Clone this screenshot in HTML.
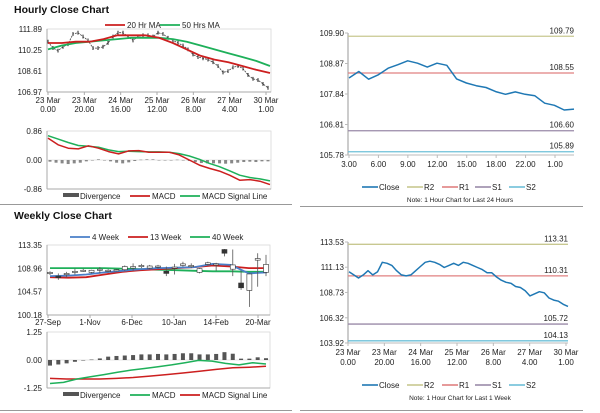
<!DOCTYPE html>
<html><head><meta charset="utf-8"><style>
body{margin:0;background:#fff;font-family:"Liberation Sans",Arial,sans-serif}
svg{display:block}
</style></head><body>
<svg id="s" width="600" height="413" viewBox="0 0 600 413" xmlns="http://www.w3.org/2000/svg" font-family="Liberation Sans, Arial, sans-serif">
<text x="14" y="13" font-size="10.5" font-weight="bold" fill="#111">Hourly Close Chart</text>
<text x="14" y="219" font-size="10.5" font-weight="bold" fill="#111">Weekly Close Chart</text>
<line x1="0" y1="204.5" x2="292" y2="204.5" stroke="#999"/>
<line x1="300" y1="206.5" x2="583" y2="206.5" stroke="#999"/>
<line x1="0" y1="410.5" x2="292" y2="410.5" stroke="#999"/>
<line x1="300" y1="410.5" x2="583" y2="410.5" stroke="#999"/>
</svg>
<script>
// ---- Hourly (top-left) ----
const hPrice=[110.9,110.4,110.2,110.5,110.7,111.5,111.6,111.3,111.0,110.4,110.4,110.5,110.8,111.3,111.6,111.6,111.3,111.0,111.3,111.4,111.4,111.3,111.6,111.5,111.2,111.0,110.8,110.6,110.3,109.9,109.7,109.6,109.5,109.3,109.0,108.5,108.6,108.9,109.0,108.8,108.3,108.0,107.9,107.6,107.3];
const hMA20=[110.8,110.8,110.9,110.9,111.1,111.4,111.4,111.4,111.2,110.8,110.3,109.8,109.5,109.3,109.0,108.7,108.45];
const hMA50=[110.3,110.6,110.8,110.9,111.0,111.1,111.2,111.2,111.2,111.1,110.9,110.6,110.3,110.0,109.7,109.4,109.0];
const hTicks=["111.89","110.25","108.61","106.97"];
const hXLabels=[["23 Mar","0.00"],["23 Mar","20.00"],["24 Mar","16.00"],["25 Mar","12.00"],["26 Mar","8.00"],["27 Mar","4.00"],["30 Mar","1.00"]];
const hMacd=[0.65,0.45,0.35,0.33,0.42,0.35,0.25,0.18,0.27,0.28,0.23,0.23,0.23,0.15,0.0,-0.15,-0.25,-0.33,-0.45,-0.6,-0.58,-0.63,-0.73];
const hSignal=[0.72,0.62,0.52,0.43,0.41,0.38,0.30,0.25,0.26,0.25,0.24,0.24,0.23,0.19,0.12,0.02,-0.1,-0.2,-0.32,-0.45,-0.52,-0.56,-0.62];
const hDiv=[-0.05,-0.08,-0.1,-0.12,-0.1,-0.08,-0.04,0,0.02,0,-0.04,-0.08,-0.1,-0.07,-0.03,0.01,0.02,0.02,0,0,0,0.01,0,-0.03,-0.06,-0.09,-0.1,-0.1,-0.1,-0.11,-0.1,-0.08,-0.06,-0.05,-0.06,-0.04,-0.04];
const hMacdTicks=["0.86","0.00","-0.86"];
// ---- 24h (top-right) ----
const dClose=[108.38,108.60,108.34,108.49,108.71,108.83,108.96,108.88,108.75,108.88,108.81,108.35,108.21,108.12,108.06,107.92,107.83,107.91,107.83,107.78,107.53,107.46,107.30,107.33];
const dLevels=[109.79,108.55,106.60,105.89];
const dTicks=["109.90","108.87","107.84","106.81","105.78"];
const dXLabels=["3.00","6.00","9.00","12.00","15.00","18.00","22.00","1.00"];
// ---- Weekly (bottom-left) ----
const wOpen=[108.0,107.5,107.8,108.3,108.5,108.2,108.6,108.4,108.5,108.7,109.0,109.3,109.0,109.2,108.4,109.0,109.5,109.3,108.2,109.7,109.6,112.5,108.8,106.2,104.8,110.5,108.2];
const wClose=[108.2,107.2,108.0,108.4,108.6,108.6,108.8,108.6,108.7,109.3,109.3,109.5,109.4,109.4,108.0,109.2,109.8,109.5,108.9,110.0,109.8,111.8,109.6,105.3,107.9,110.8,109.7];
const wHigh=[108.4,108.0,108.3,108.9,108.9,108.7,109.2,108.8,108.8,109.5,109.9,109.8,109.6,109.6,109.3,109.8,110.2,109.9,109.0,110.2,110.0,112.6,112.5,108.5,108.0,111.8,111.5];
const wLow=[107.7,106.8,107.2,107.8,108.3,108.0,108.0,108.2,108.4,108.5,108.5,109.0,108.8,108.9,107.5,107.8,109.3,109.0,108.0,109.5,108.5,111.2,107.5,104.9,101.7,105.5,107.5];
const w4=[107.5,107.6,107.8,108.2,108.5,108.8,109.0,109.1,109.2,109.8,109.6,108.0,108.2];
const w13=[107.3,107.2,107.3,107.8,108.3,108.6,108.8,109.0,109.2,109.5,109.3,109.0,109.0];
const w40=[109.0,109.0,109.0,109.0,108.9,108.8,108.7,108.6,108.5,108.4,108.4,108.3,108.3];
const wTicks=["113.35","108.96","104.57","100.18"];
const wXLabels=["27-Sep","1-Nov","6-Dec","10-Jan","14-Feb","20-Mar"];
const wDiv=[-0.25,-0.2,-0.15,-0.08,0,0.02,0.07,0.15,0.18,0.2,0.22,0.25,0.25,0.27,0.25,0.27,0.3,0.3,0.25,0.25,0.27,0.35,0.28,0.06,0.06,0.12,0.08];
const wMacd=[-1.05,-1.0,-0.85,-0.75,-0.65,-0.55,-0.45,-0.38,-0.3,-0.22,-0.12,-0.02,-0.05,-0.15,-0.22,-0.12,-0.18];
const wSignal=[-0.82,-0.85,-0.85,-0.85,-0.82,-0.78,-0.72,-0.65,-0.58,-0.5,-0.42,-0.35,-0.32,-0.28];
const wMacdTicks=["1.25","0.00","-1.25"];
// ---- 1 week (bottom-right) ----
const kClose=[110.7,110.4,110.1,110.4,110.8,110.4,110.7,111.6,111.5,111.3,110.8,110.4,110.3,110.4,110.8,111.2,111.6,111.7,111.6,111.4,111.1,111.3,111.5,111.3,111.6,111.5,111.3,111.1,110.9,110.6,110.6,110.2,109.9,109.7,109.6,109.3,109.2,108.9,108.4,108.6,108.8,108.7,108.2,108.0,107.9,107.6,107.4];
const kLevels=[113.31,110.31,105.72,104.13];
const kTicks=["113.53","111.13","108.73","106.32","103.92"];

const S=document.getElementById('s');const NS='http://www.w3.org/2000/svg';
function mk(tag,attrs,parent){const e=document.createElementNS(NS,tag);for(const k in attrs)e.setAttribute(k,attrs[k]);(parent||S).appendChild(e);return e;}
function txt(x,y,s,size,anchor,fill){const t=mk('text',{x:x,y:y,'font-size':size||8,'text-anchor':anchor||'start',fill:fill||'#222'});t.textContent=s;return t;}
function lin(d0,d1,r0,r1){return v=>r0+(v-d0)/(d1-d0)*(r1-r0);}
function poly(arr,x0,x1,y,color,w){const xs=lin(0,arr.length-1,x0,x1);const p=mk('polyline',{points:arr.map((v,i)=>xs(i).toFixed(1)+','+y(v).toFixed(1)).join(' '),fill:'none',stroke:color,'stroke-width':w||1.5,'stroke-linejoin':'round'});return p;}
function frame(x0,y0,x1,y1,nt){const g=mk('g',{});mk('rect',{x:x0,y:y0,width:x1-x0,height:y1-y0,fill:'none',stroke:'#d8d8d8','stroke-width':0.8},g);mk('line',{x1:x0,y1:y0,x2:x0,y2:y1,stroke:'#aaa'},g);mk('line',{x1:x0,y1:y1,x2:x1,y2:y1,stroke:'#aaa'},g);return g;}
function legendItem(x,y,color,label,thick){const l=mk('line',{x1:x,y1:y-3,x2:x+20,y2:y-3,stroke:color,'stroke-width':thick||1.8});const t=txt(x+22,y,label,8);return [l,t];}

// ===== Hourly main =====
(function(){const X0=47,X1=271,Y0=29,Y1=92;
const y=lin(111.89,106.97,Y0,Y1);
const g=frame(X0,Y0,X1,Y1);
hTicks.forEach(t=>{const e=txt(42,y(+t)+3,t,8,'end');});
const xs=lin(0,hXLabels.length-1,48,266);
hXLabels.forEach((l,i)=>{mk('line',{x1:xs(i),y1:Y1,x2:xs(i),y2:Y1+3,stroke:'#aaa'});const a=txt(xs(i),Y1+11,l[0],8,'middle');const b=txt(xs(i),Y1+20,l[1],8,'middle');});
const px=lin(0,hPrice.length-1,X0+1,X1-3);
hPrice.forEach((v,i)=>{const b=mk('line',{x1:px(i),y1:y(v+0.15),x2:px(i),y2:y(v-0.15),stroke:'#222','stroke-width':1});});
const p=poly(hPrice,X0+1,X1-3,y,'#444',0.8);p.setAttribute('stroke-dasharray','2,1');
const g50=poly(hMA50,X0+1,X1-1,y,'#1eb05a',1.8);
const r20=poly(hMA20,X0+1,X1-1,y,'#cc1f1f',1.8);
let [l1,t1]=legendItem(105,28,'#cc1f1f','20 Hr MA');
let [l2,t2]=legendItem(160,28,'#1eb05a','50 Hrs MA');
})();
// ===== Hourly MACD =====
(function(){const X0=47,X1=271,Y0=131,Y1=189;
const y=lin(0.86,-0.86,Y0,Y1);
const g=frame(X0,Y0,X1,Y1);
mk('line',{x1:X0,y1:y(0),x2:X1,y2:y(0),stroke:'#ccc','stroke-width':0.6});
hMacdTicks.forEach(t=>{const e=txt(42,y(+t)+3,t,8,'end');});
const bx=lin(0,hDiv.length-1,X0+3,X1-3);
hDiv.forEach((v,i)=>{const b=mk('rect',{x:bx(i)-1.5,y:Math.min(y(0),y(v)),width:3,height:Math.max(0.5,Math.abs(y(v)-y(0))),fill:'#888'});});
const s=poly(hSignal,X0+1,X1-1,y,'#1eb05a',1.5);
const m=poly(hMacd,X0+1,X1-1,y,'#cc1f1f',1.5);
const lr=mk('rect',{x:63,y:193,width:16,height:4,fill:'#555'});
const lt=txt(80,199,'Divergence',8);
let [a,b]=legendItem(130,199,'#cc1f1f','MACD');
let [c,d]=legendItem(180,199,'#1eb05a','MACD Signal Line');
})();
// ===== level charts (right) =====
function levelChart(cfg){const {X0,X1,Y0,Y1,ymax,ymin,ticks,close,levels,name}=cfg;
const y=lin(ymax,ymin,Y0,Y1);
const g=mk('g',{});
mk('line',{x1:X0,y1:Y0,x2:X0,y2:Y1,stroke:'#ccc','stroke-width':2},g);
mk('line',{x1:X0,y1:Y1,x2:X1,y2:Y1,stroke:'#bbb'},g);
ticks.forEach(t=>{mk('line',{x1:X0-3,y1:y(+t),x2:X0,y2:y(+t),stroke:'#bbb'});const e=txt(X0-4,y(+t)+3,t,8,'end');});
const cols=['#c8c890','#e08080','#9a8aa8','#6ec0d8'];const nm=['r2','r1','s1','s2'];
levels.forEach((v,i)=>{const l=mk('line',{x1:X0,y1:y(v),x2:X1,y2:y(v),stroke:cols[i],'stroke-width':1.3});const t=txt(X1,y(v)-3,v.toFixed(2),8,'end');});
const p=poly(close,X0+1,X1,y,'#1f78b4',1.5);
return y;}
levelChart({X0:348,X1:574,Y0:33,Y1:155,ymax:109.90,ymin:105.78,ticks:dTicks,close:dClose,levels:dLevels,name:'daily'});
(function(){const xs=lin(0,dXLabels.length-1,349,555);dXLabels.forEach((l,i)=>{mk('line',{x1:xs(i),y1:155,x2:xs(i),y2:158,stroke:'#bbb'});const t=txt(xs(i),167,l,8,'middle');});})();
levelChart({X0:348,X1:568,Y0:242,Y1:343,ymax:113.53,ymin:103.92,ticks:kTicks,close:kClose,levels:kLevels,name:'week'});
(function(){const xs=lin(0,hXLabels.length-1,348,566);hXLabels.forEach((l,i)=>{mk('line',{x1:xs(i),y1:343,x2:xs(i),y2:346,stroke:'#bbb'});const a=txt(xs(i),355,l[0],8,'middle');const b=txt(xs(i),365,l[1],8,'middle');});})();
function levelLegend(y,noteY,note,name){const items=[['Close','#1f78b4'],['R2','#c8c890'],['R1','#e08080'],['S1','#9a8aa8'],['S2','#6ec0d8']];const xs=[362,407,442,475,509];
items.forEach((it,i)=>{const l=mk('line',{x1:xs[i],y1:y-3,x2:xs[i]+16,y2:y-3,stroke:it[1],'stroke-width':1.6});const t=txt(xs[i]+17,y,it[0],8);});
const n=txt(460,noteY,note,6.5,'middle');}
levelLegend(190,202,'Note: 1 Hour Chart for Last 24 Hours','daily');
levelLegend(388,400,'Note: 1 Hour Chart for Last 1 Week','week');
// ===== Weekly main =====
(function(){const X0=47,X1=270,Y0=245,Y1=315;
const y=lin(113.35,100.18,Y0,Y1);
const g=frame(X0,Y0,X1,Y1);
wTicks.forEach(t=>{const e=txt(42,y(+t)+3,t,8,'end');});
const lx=lin(0,wXLabels.length-1,48,258);
wXLabels.forEach((l,i)=>{mk('line',{x1:lx(i),y1:Y1,x2:lx(i),y2:Y1+3,stroke:'#aaa'});const t=txt(lx(i),Y1+10,l,8,'middle');});
const cx=lin(0,wOpen.length-1,50,266);
const l40=poly(w40,X0+3,X1-3,y,'#1eb05a',1.8);
const l13=poly(w13,X0+3,X1-3,y,'#cc1f1f',1.8);
const l4=poly(w4,X0+3,X1-3,y,'#4a7fc8',1.8);
wOpen.forEach((o,i)=>{const c=wClose[i];const x=cx(i);
const w=mk('line',{x1:x,y1:y(wHigh[i]),x2:x,y2:y(wLow[i]),stroke:'#555','stroke-width':0.8});
const top=y(Math.max(o,c)),bot=y(Math.min(o,c));
const r=mk('rect',{x:x-2.5,y:top,width:5,height:Math.max(1.2,bot-top),fill:c>=o?'#fff':'#333',stroke:'#333','stroke-width':0.6});});
let [a,b]=legendItem(70,240,'#4a7fc8','4 Week');
let [c,d]=legendItem(128,240,'#cc1f1f','13 Week');
let [e,f]=legendItem(190,240,'#1eb05a','40 Week');
})();
// ===== Weekly MACD =====
(function(){const X0=47,X1=270,Y0=332,Y1=388;
const y=lin(1.25,-1.25,Y0,Y1);
const g=frame(X0,Y0,X1,Y1);
mk('line',{x1:X0,y1:y(0),x2:X1,y2:y(0),stroke:'#ccc','stroke-width':0.6});
wMacdTicks.forEach(t=>{const e=txt(42,y(+t)+3,t,8,'end');});
const bx=lin(0,wDiv.length-1,50,266);
wDiv.forEach((v,i)=>{const b=mk('rect',{x:bx(i)-2,y:Math.min(y(0),y(v)),width:4,height:Math.max(0.5,Math.abs(y(v)-y(0))),fill:'#555'});});
const s=poly(wSignal,50,266,y,'#cc1f1f',1.5);
const m=poly(wMacd,50,266,y,'#1eb05a',1.5);
const lr=mk('rect',{x:63,y:392,width:16,height:4,fill:'#555'});
const lt=txt(80,398,'Divergence',8);
let [a,b]=legendItem(130,398,'#1eb05a','MACD');
let [c,d]=legendItem(180,398,'#cc1f1f','MACD Signal Line');
})();
</script>
</body></html>
